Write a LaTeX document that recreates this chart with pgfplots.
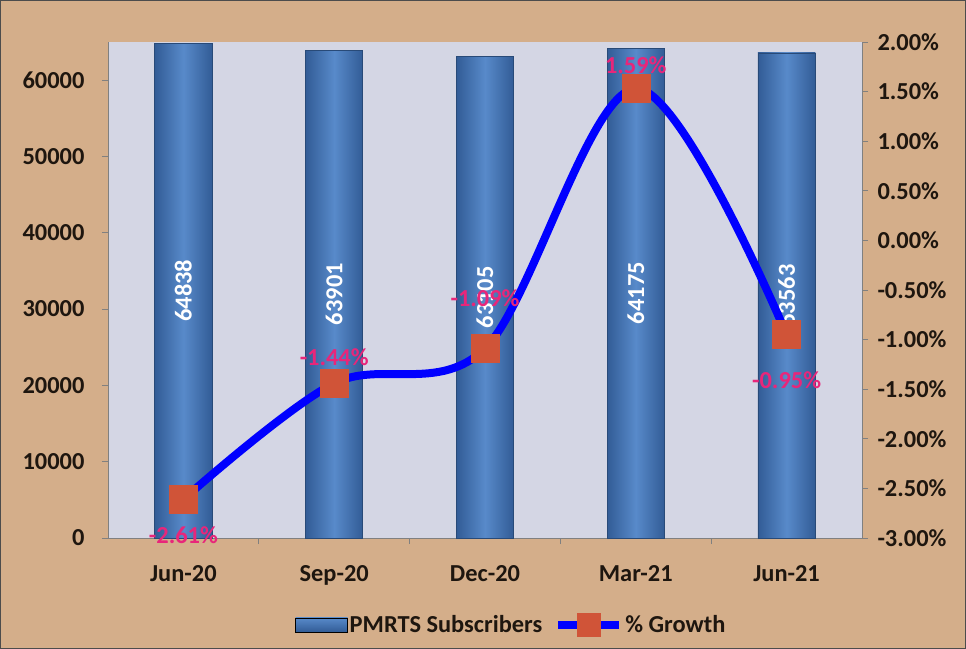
\documentclass[border=0pt]{standalone}
\usepackage{pgfplots}
\pgfplotsset{compat=1.18}
\usepackage{fontspec}
\setmainfont{Carlito}
\definecolor{sand}{RGB}{212,174,138}
\definecolor{plotbg}{RGB}{212,214,228}
\definecolor{bardark}{RGB}{50,92,150}
\definecolor{barmid}{RGB}{88,138,202}
\definecolor{mk}{RGB}{208,84,56}
\definecolor{lbl}{RGB}{232,38,122}
\definecolor{txt}{RGB}{30,22,15}
\newcommand{\bigf}{\fontsize{24.5}{26}\selectfont\bfseries}
\pgfplotsset{barstyle/.style={ybar, bar shift=0pt, bar width=0.38, draw=bardark!80!black, line width=0.8bp,
  left color=bardark, right color=bardark, middle color=barmid}}
\begin{document}
\begin{tikzpicture}
\fill[sand] (-108bp,-111bp) rectangle (858bp,538bp);
\draw[gray!60!black, line width=1bp] (-107.5bp,-110.5bp) rectangle (857.5bp,537.5bp);

\begin{axis}[
  at={(0,0)}, anchor=south west,
  scale only axis, width=754bp, height=496bp,
  xmin=-0.5, xmax=4.5, ymin=0, ymax=65000,
  axis background/.style={fill=plotbg},
  axis x line*=bottom, axis y line*=left,
  axis line style={gray, line width=0.8bp},
  xtick={0,1,2,3,4},
  xticklabels={Jun-20,Sep-20,Dec-20,Mar-21,Jun-21},
  major x tick style={draw=none},
  minor xtick={0.5,1.5,2.5,3.5},
  minor x tick style={gray, line width=0.8bp},
  minor tick length=6bp,
  ytick={0,10000,20000,30000,40000,50000,60000},
  y tick style={gray, line width=0.8bp},
  major tick length=6bp,
  tick align=outside,
  scaled y ticks=false,
  /pgf/number format/set thousands separator={},
  /pgf/number format/assume math mode=true,
  tick label style={font=\bigf, text=txt},
  xticklabel style={yshift=-18bp},
  yticklabel style={xshift=-14bp},
]
\addplot[barstyle] coordinates {(0,64838)};
\addplot[barstyle] coordinates {(1,63901)};
\addplot[barstyle] coordinates {(2,63105)};
\addplot[barstyle] coordinates {(3,64175)};
\addplot[barstyle] coordinates {(4,63563)};
\addplot[draw=none, nodes near coords, point meta=explicit symbolic,
  every node near coord/.append style={anchor=center, rotate=90, text=white, font=\bigf}]
  coordinates {(0,32419)[64838] (1,31950)[63901] (2,31552)[63105] (3,32087)[64175] (4,31781)[63563]};
\end{axis}

\begin{axis}[
  at={(0,0)}, anchor=south west,
  scale only axis, width=754bp, height=496bp,
  xmin=-0.5, xmax=4.5, ymin=-3, ymax=2,
  axis x line=none, axis y line*=right,
  axis line style={gray, line width=0.8bp},
  ytick={-3,-2.5,-2,-1.5,-1,-0.5,0,0.5,1,1.5,2},
  yticklabel={\pgfmathprintnumber[fixed,fixed zerofill,precision=2]{\tick}\%},
  /pgf/number format/assume math mode=true,
  y tick style={gray, line width=0.8bp},
  major tick length=6bp,
  tick align=outside,
  tick label style={font=\bigf, text=txt},
  yticklabel style={xshift=6bp},
  legend columns=2,
  legend style={draw=none, fill=none, at={(0.535,-0.175)}, anchor=center,
    font=\bigf, text=txt,
    /tikz/every even column/.append style={column sep=10bp}},
]
\addlegendimage{legend image code/.code={
  \fill[top color=barmid, bottom color=bardark] (-18bp,-7bp) rectangle (34bp,7bp);}}
\addlegendentry{PMRTS Subscribers}
\addplot[blue, line width=8bp, smooth, tension=0.55,
  mark=square*, mark size=14bp, mark options={fill=mk, draw=mk, line width=0.5bp},
  legend image code/.code={
    \draw[blue, line width=8bp] (-8bp,0bp) -- (53bp,0bp);
    \fill[mk] (15bp,-8bp) rectangle (31bp,8bp);}]
  coordinates {(0,-2.61) (1,-1.44) (2,-1.09) (3,1.53) (4,-0.95)};
\addlegendentry{\% Growth}
\addplot[draw=none, nodes near coords, point meta=explicit symbolic,
  every node near coord/.append style={anchor=center, text=lbl, font=\bigf}]
  coordinates {(0,-2.97)[-2.61\%] (1,-1.18)[-1.44\%] (2,-0.58)[-1.09\%] (3,1.77)[1.59\%] (4,-1.41)[-0.95\%]};
\end{axis}
\end{tikzpicture}
\end{document}
